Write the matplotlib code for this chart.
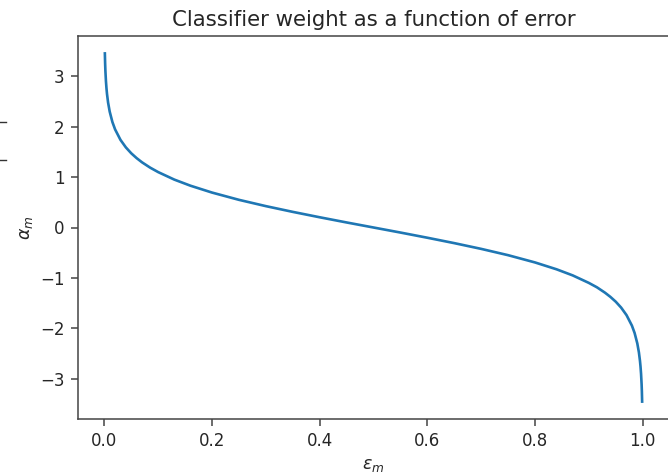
import matplotlib
matplotlib.use('Agg')
import matplotlib.pyplot as plt
from matplotlib.lines import Line2D

# classifier error and weight
error = [0.001, 0.0015, 0.002, 0.003, 0.004, 0.005, 0.007, 0.01, 0.015, 0.02,
         0.03, 0.04, 0.05, 0.06, 0.07, 0.085, 0.1, 0.13, 0.16, 0.2, 0.25,
         0.3, 0.35, 0.4, 0.45, 0.5, 0.55, 0.6, 0.65, 0.7, 0.75, 0.8, 0.84,
         0.87, 0.9, 0.915, 0.93, 0.94, 0.95, 0.96, 0.97, 0.98, 0.985, 0.99,
         0.993, 0.995, 0.996, 0.997, 0.998, 0.9985, 0.999]
weight = [3.453, 3.250, 3.106, 2.903, 2.759, 2.647, 2.477, 2.298, 2.092, 1.946,
          1.738, 1.589, 1.472, 1.376, 1.293, 1.188, 1.099, 0.950, 0.829, 0.693,
          0.549, 0.424, 0.310, 0.203, 0.100, 0.0, -0.100, -0.203, -0.310,
          -0.424, -0.549, -0.693, -0.829, -0.950, -1.099, -1.186, -1.293,
          -1.376, -1.472, -1.589, -1.738, -1.946, -2.092, -2.298, -2.477,
          -2.647, -2.759, -2.903, -3.106, -3.250, -3.453]

txt = '#262626'

fig = plt.figure(figsize=(6.68, 4.75), dpi=100)
ax = fig.add_axes([78 / 668, 1 - 419 / 475, 591 / 668, 383 / 475])

ax.plot(error, weight, color='#1f77b4', lw=1.9)

ax.set_title('Classifier weight as a function of error', fontsize=15.3,
             color=txt, pad=7)
ax.set_xlabel(r'$\varepsilon_m$', fontsize=12.5, color=txt)
ax.set_ylabel(r'$\alpha_m$', fontsize=12.5, color=txt)
ax.tick_params(labelsize=12, labelcolor=txt, color='#444444',
               length=5, width=1.1, pad=4.5)
for sp in ax.spines.values():
    sp.set_color('#444444')
    sp.set_linewidth(1.1)

# stray marks at the left edge of the screenshot
for yy in (122, 160):
    fig.add_artist(Line2D([0, 6 / 668], [1 - yy / 475, 1 - yy / 475],
                          color='#333333', lw=1, transform=fig.transFigure))

fig.savefig('out.png', dpi=100)
